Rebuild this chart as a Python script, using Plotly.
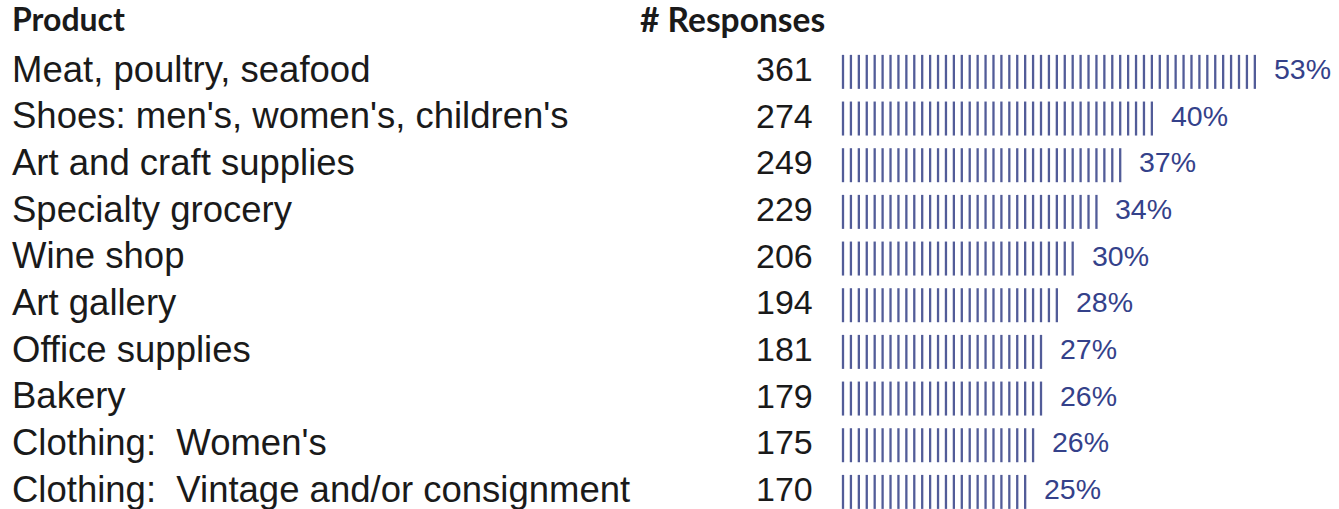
import plotly.graph_objects as go

# ---- data ----
products = [
    "Meat, poultry, seafood",
    "Shoes: men's, women's, children's",
    "Art and craft supplies",
    "Specialty grocery",
    "Wine shop",
    "Art gallery",
    "Office supplies",
    "Bakery",
    "Clothing: \u00a0Women's",
    "Clothing: \u00a0Vintage and/or consignment",
]
responses = [361, 274, 249, 229, 206, 194, 181, 179, 175, 170]
percent_labels = [53, 40, 37, 34, 30, 28, 27, 26, 26, 25]
pipe_counts = [53, 40, 36, 33, 30, 28, 26, 26, 25, 24]
header_product = "Product"
header_responses = "# Responses"

W, H = 1339, 509
PIPE_COLOR = "#525c98"
PCT_COLOR = "#34418a"
TEXT_COLOR = "#1a1a1a"
BODY_FONT = "Liberation Sans, Arial, sans-serif"
HEAD_FONT = "Lato, sans-serif"

fig = go.Figure()

# pipe "bars" (line-ns symbol length is 1.4 * size)
for i, n in enumerate(pipe_counts):
    fig.add_trace(go.Scatter(
        x=list(range(n)), y=[i + 0.04] * n,
        mode="markers",
        marker=dict(symbol="line-ns", size=34 / 1.4,
                    line=dict(width=2.3, color=PIPE_COLOR), color=PIPE_COLOR),
        hoverinfo="skip", showlegend=False,
    ))

ann = []
# headers
ann.append(dict(text="<b>" + header_product + "</b>", xref="paper", yref="y",
                x=10 / W, y=-1.1, xanchor="left", yanchor="middle", showarrow=False,
                font=dict(family=HEAD_FONT, size=32, color=TEXT_COLOR)))
ann.append(dict(text="<b>" + header_responses + "</b>", xref="paper", yref="y",
                x=638 / W, y=-1.1, xanchor="left", yanchor="middle", showarrow=False,
                font=dict(family=HEAD_FONT, size=33.5, color=TEXT_COLOR)))

for i, (p, r, pct, n) in enumerate(zip(products, responses, percent_labels, pipe_counts)):
    ann.append(dict(text=p, xref="paper", yref="y", x=10 / W, y=i - 0.02,
                    xanchor="left", yanchor="middle", showarrow=False,
                    font=dict(family=BODY_FONT, size=36.5, color=TEXT_COLOR)))
    ann.append(dict(text=str(r), xref="paper", yref="y", x=815 / W, y=i - 0.02,
                    xanchor="right", yanchor="middle", showarrow=False,
                    font=dict(family=BODY_FONT, size=34, color=TEXT_COLOR)))
    ann.append(dict(text=f"{pct}%", xref="x", yref="y", x=n - 1 + 2.15, y=i - 0.02,
                    xanchor="left", yanchor="middle", showarrow=False,
                    font=dict(family=BODY_FONT, size=28.5, color=PCT_COLOR)))

fig.update_layout(
    width=W, height=H,
    margin=dict(l=0, r=0, t=0, b=0),
    paper_bgcolor="white", plot_bgcolor="white",
    xaxis=dict(range=[-843 / 7.92, (W - 843) / 7.92], visible=False, fixedrange=True),
    yaxis=dict(range=[-1.5 + H / 46.67, -1.5], visible=False, fixedrange=True),
    annotations=ann,
    showlegend=False,
)

fig.write_html("out.html",
               config={"displayModeBar": False},
               post_script="document.body.style.margin='0';document.body.style.padding='0';")
